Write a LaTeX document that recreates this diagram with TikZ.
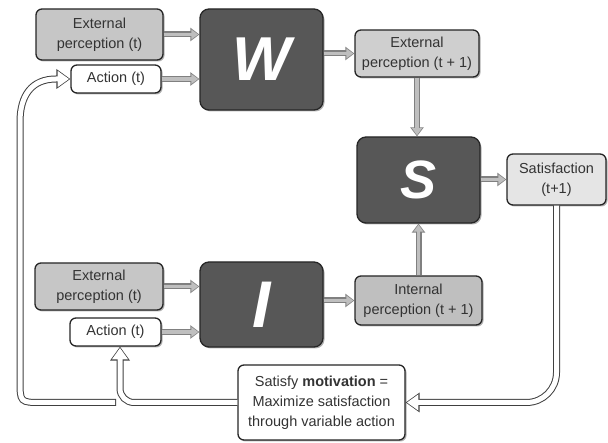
\documentclass[tikz,border=0pt]{standalone}
\usepackage{fontspec}
\setmainfont{Liberation Sans}
\usetikzlibrary{arrows.meta,shadows}
\begin{document}
\begin{tikzpicture}[x=1pt,y=-1pt,
  box/.style={draw=black!85, line width=1.3pt, rounded corners=6pt, align=center,
    font=\fontsize{14.5}{20}\selectfont, text=black!80, inner sep=0pt,
    drop shadow={shadow xshift=1.5pt, shadow yshift=-1.5pt, opacity=.3, fill=black}},
  bigbox/.style={box, fill=black!66, rounded corners=9pt, text=white,
    font=\bfseries\itshape},
  garrow/.style={draw=black!50, line width=6pt, -{Triangle[length=9pt,width=13pt]},
    postaction={draw=black!25, line width=3.6pt, -{Triangle[length=7pt,width=9.6pt]}, shorten >=1.1pt}},
  harrow/.style={draw=black!75, line width=7pt, -{Triangle[length=14pt,width=19pt]},
    postaction={draw=white, line width=5pt, -{Triangle[length=11.4pt,width=15.4pt]}, shorten >=1.3pt}},
  harrowcap/.style={draw=black!75, line width=7pt, -{Triangle[length=14pt,width=19pt]},
    postaction={draw=white, line width=5pt, -{Triangle[length=11.4pt,width=15.4pt]}, shorten >=1.3pt, shorten <=1pt}},
  hline/.style={draw=black!75, line width=7pt,
    postaction={draw=white, line width=5pt}}
]
\useasboundingbox (0,0) rectangle (608,443);

% boxes
\node[box, fill=gray!45, minimum width=127pt, minimum height=51pt] (ep1) at (99.5,34.5) {External\\perception (t)};
\node[box, fill=white, minimum width=90pt, minimum height=28pt] (act1) at (116,79) {Action (t)};
\node[bigbox, minimum width=123pt, minimum height=101pt] (W) at (261.5,59.5) {\fontsize{62}{62}\selectfont W};
\node[box, fill=gray!38, minimum width=124pt, minimum height=47pt] (ep2) at (417,53.5) {External\\perception (t + 1)};
\node[bigbox, minimum width=123pt, minimum height=86pt] (S) at (418.5,180) {\fontsize{54}{54}\selectfont S};
\node[box, fill=gray!20, minimum width=99pt, minimum height=51pt] (sat) at (556.5,179.5) {Satisfaction\\(t+1)};
\node[box, fill=gray!45, minimum width=128pt, minimum height=47pt] (ep3) at (99,286.5) {External\\perception (t)};
\node[box, fill=white, minimum width=91pt, minimum height=28pt] (act2) at (115.5,332) {Action (t)};
\node[bigbox, minimum width=123pt, minimum height=85pt] (I) at (261.5,304.5) {\fontsize{66}{66}\selectfont I};
\node[box, fill=gray!50, minimum width=127pt, minimum height=49pt] (ip) at (418.5,300.5) {Internal\\perception (t + 1)};
\node[box, fill=white, minimum width=167pt, minimum height=75pt] (mot) at (321.5,402.5) {Satisfy \textbf{motivation} =\\Maximize satisfaction\\through variable action};

% gray arrows
\draw[garrow] (ep1.east) -- (W.west |- ep1.east);
\draw[garrow] (act1.east) -- (W.west |- act1.east);
\draw[garrow] (W.east |- ep2.west) -- (ep2.west);
\draw[garrow] (ep2.south) -- (S.north -| ep2.south);
\draw[garrow] (S.east |- sat.west) -- (sat.west);
\draw[garrow] (ip.north -| S.south) -- (S.south);
\draw[garrow] (ep3.east) -- (I.west |- ep3.east);
\draw[garrow] (act2.east) -- (I.west |- act2.east);
\draw[garrow] (I.east |- ip.west) -- (ip.west);

% hollow feedback arrows
\coordinate (a2b) at ([xshift=4.5pt]act2.south);
\coordinate (os) at (116,402.5);
\draw[harrow, rounded corners=30pt] (sat.south) -- (sat.south |- mot.east) -- (mot.east);
\draw[harrow, rounded corners=14pt] (mot.west) -- (a2b |- mot.west) -- (a2b);
\draw[harrowcap] (os) -- (42,402.5) .. controls (20,402.5) and (20,402.5) .. (20,380)
  -- (20,122) .. controls (20,95) and (32,79) .. (56,79) -- (act1.west);
\end{tikzpicture}
\end{document}
